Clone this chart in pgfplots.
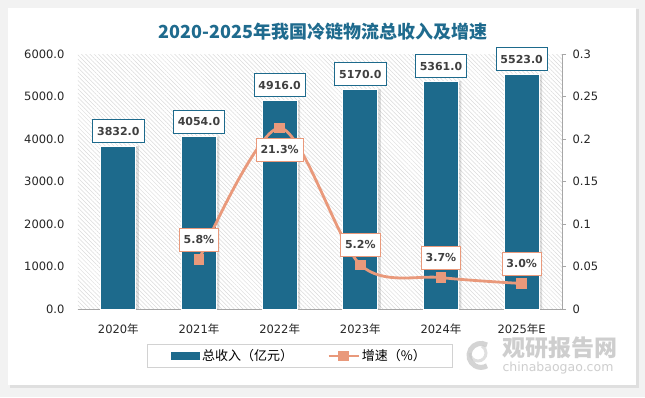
\documentclass[border=0pt]{standalone}
\usepackage{pgfplots}
\pgfplotsset{compat=1.18}
\usepackage{fontspec}
\setmainfont{DejaVu Sans}
\newfontfamily\cjk{Noto Sans CJK SC}
\usetikzlibrary{patterns.meta}
\definecolor{barblue}{HTML}{1D6A8C}
\definecolor{lineor}{HTML}{E9997B}
\definecolor{titleblue}{HTML}{1F6B8E}
\definecolor{lbltext}{HTML}{404040}

\begin{document}
\begin{tikzpicture}[x=1pt,y=1pt]
\fill[gray!10] (0,0) rectangle (645,397);
\fill[gray!25] (10,9) rectangle (639,388);
\fill[white] (8,12) rectangle (636,389);
\node[font=\cjk\bfseries\fontsize{18}{20}\selectfont, text=titleblue] at (323,365) {2020-2025年我国冷链物流总收入及增速};

\begin{axis}[
  at={(78pt,88pt)}, anchor=south west, scale only axis,
  width=484pt, height=255pt,
  xmin=-0.5, xmax=5.5, ymin=0, ymax=6000,
  axis y line*=left, axis x line*=bottom,
  y axis line style={draw=none},
  x axis line style={draw=gray!70, line width=0.8pt},
  axis background/.style={pattern={Lines[angle=-45,distance=3pt,line width=0.5pt]}, pattern color=gray!28},
  xtick={0,1,2,3,4,5},
  xticklabels={2020{\cjk 年},2021{\cjk 年},2022{\cjk 年},2023{\cjk 年},2024{\cjk 年},2025{\cjk 年}E},
  xtick style={draw=none},
  ytick={0,1000,2000,3000,4000,5000,6000},
  yticklabels={0.0,1000.0,2000.0,3000.0,4000.0,5000.0,6000.0},
  ytick style={draw=none},
  ticklabel style={font=\fontsize{11.5}{13}\selectfont, text=black!85},
  yticklabel style={anchor=east, xshift=-10pt},
  xticklabel style={yshift=-7pt},
  ybar, bar width=35pt,
  clip=false,
]
\addplot[fill=black, draw=none, opacity=0.12, bar shift=3pt, forget plot] coordinates {(0,3832) (1,4054) (2,4916) (3,5170) (4,5361) (5,5523)};
\addplot[fill=barblue, draw=white, line width=1pt, bar shift=0pt,
  point meta=explicit symbolic,
  nodes near coords,
  every node near coord/.append style={draw=barblue, line width=0.8pt, fill=white, text=lbltext,
    font=\bfseries\fontsize{11}{13}\selectfont, inner xsep=4.5pt, minimum height=23pt, anchor=south, yshift=3pt}]
  coordinates {(0,3832)[3832.0] (1,4054)[4054.0] (2,4916)[4916.0] (3,5170)[5170.0] (4,5361)[5361.0] (5,5523)[5523.0]};
\end{axis}

\begin{axis}[
  at={(78pt,88pt)}, anchor=south west, scale only axis,
  width=484pt, height=255pt,
  xmin=-0.5, xmax=5.5, ymin=0, ymax=0.3,
  axis y line*=right, axis x line=none,
  y axis line style={draw=gray!70, line width=0.8pt},
  ytick={0,0.05,0.1,0.15,0.2,0.25,0.3},
  yticklabels={0,0.05,0.1,0.15,0.2,0.25,0.3},
  ytick style={draw=gray!70, line width=0.8pt},
  tick align=outside, major tick length=4pt,
  ticklabel style={font=\fontsize{11.5}{13}\selectfont, text=black!85},
  yticklabel style={anchor=west, xshift=3pt},
  clip=false,
  legend style={at={(rel axis cs:0.458,-0.184)}, anchor=center, draw=gray!35, line width=0.8pt,
    legend columns=2, font=\cjk\fontsize{13}{15}\selectfont, inner xsep=24pt, inner ysep=3pt,
    /tikz/every even column/.append style={column sep=32pt}},
  legend cell align=left,
]
\addlegendimage{legend image code/.code={\fill[barblue] (0pt,-3.5pt) rectangle (28pt,3.5pt);}}
\addlegendentry{总收入（亿元）}
\addplot[color=lineor, line width=2.8pt, smooth, mark=square*, mark size=4.8pt,
  mark options={fill=lineor, draw=lineor, line width=0pt},
  legend image code/.code={\draw[lineor, line width=2.8pt] (0pt,0pt) -- (30pt,0pt); \fill[lineor] (11pt,-4pt) rectangle (19pt,4pt);}]
  coordinates {(1,0.058) (2,0.213) (3,0.052) (4,0.037) (5,0.030)};
\addlegendentry{增速（\%）}
\addplot[draw=none, mark=none, forget plot, point meta=explicit symbolic, nodes near coords,
  every node near coord/.append style={draw=lineor, line width=0.8pt, fill=white, text=lbltext,
    font=\bfseries\fontsize{11}{13}\selectfont, inner xsep=4.5pt, minimum height=23pt, anchor=south, yshift=8pt}]
  coordinates {(1,0.058)[5.8\%] (3,0.052)[5.2\%] (4,0.037)[3.7\%] (5,0.030)[3.0\%]};
\addplot[draw=none, mark=none, forget plot, point meta=explicit symbolic, nodes near coords,
  every node near coord/.append style={draw=lineor, line width=0.8pt, fill=white, text=lbltext,
    font=\bfseries\fontsize{11}{13}\selectfont, inner xsep=4.5pt, minimum height=23pt, anchor=north, yshift=-10pt}]
  coordinates {(2,0.213)[21.3\%]};
\end{axis}

% watermark
\begin{scope}[opacity=0.55]
\draw[gray!60, line width=5pt] (487,52) arc (60:300:12);
\draw[gray!45, line width=3pt] (470,44) arc (180:420:8);
\node[font=\cjk\bfseries\fontsize{23}{25}\selectfont, text=gray!70] at (560,49) {观研报告网};
\node[font=\fontsize{12.5}{14}\selectfont, text=gray!70] at (558,29) {chinabaogao.com};
\end{scope}
\end{tikzpicture}
\end{document}
